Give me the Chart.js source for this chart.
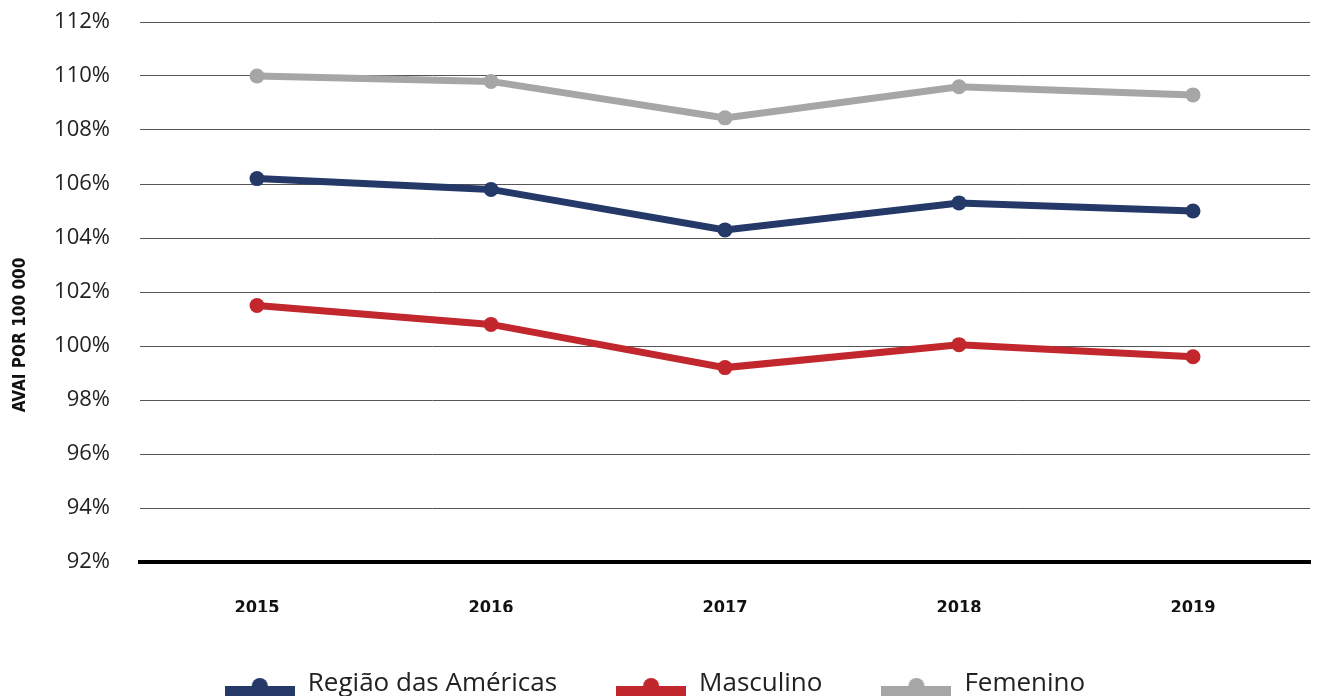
<!DOCTYPE html>
<html>
<head>
<meta charset="utf-8">
<script src="https://cdn.jsdelivr.net/npm/chart.js@4/dist/chart.umd.min.js"></script>
<style>
    html, body { margin: 0; padding: 0; background: #fff; overflow: hidden; }
    #wrap { width: 1328px; height: 707px; position: relative; }
</style>
</head>
<body>
<div id="wrap"><canvas id="line_chart"></canvas></div>
<script>
var years = ["2015", "2016", "2017", "2018", "2019"];
var regiao = [106.2, 105.8, 104.3, 105.3, 105.0];
var masculino = [101.5, 100.8, 99.2, 100.05, 99.6];
var femenino = [110.0, 109.8, 108.45, 109.6, 109.3];
var yTicks = [92, 94, 96, 98, 100, 102, 104, 106, 108, 110, 112];

var navy = '#253969';
var red = '#c1272d';
var grey = '#a6a6a6';
var narrowFont = '"DejaVu Sans Condensed", "Liberation Sans", sans-serif';

// legend marker: thick line with a dot, like the series style
function legendSymbol(color) {
    var c = document.createElement('canvas');
    c.width = 70;
    c.height = 28;
    var g = c.getContext('2d');
    g.fillStyle = color;
    g.fillRect(0, 16, 70, 11);
    g.beginPath();
    g.arc(35, 16, 8, 0, Math.PI * 2);
    g.fill();
    return c;
}
var symbols = [legendSymbol(navy), legendSymbol(red), legendSymbol(grey)];

// vertical axis caption
var yCaption = {
    id: 'yCaption',
    afterDraw: function(chart) {
        var ctx = chart.ctx;
        ctx.save();
        ctx.translate(21, 335);
        ctx.rotate(-Math.PI / 2);
        ctx.font = 'bold 17px ' + narrowFont;
        ctx.fillStyle = '#111';
        ctx.textAlign = 'center';
        ctx.textBaseline = 'middle';
        ctx.fillText('AVAI POR 100 000', 0, 0);
        ctx.restore();
    }
};

function series(label, data, color) {
    return {
        label: label,
        data: data,
        borderColor: color,
        backgroundColor: color,
        pointBackgroundColor: color,
        borderWidth: 7,
        pointRadius: 7.5,
        pointBorderWidth: 0,
        pointHoverRadius: 7.5,
        tension: 0,
        fill: false
    };
}

var lineData = {
    labels: years,
    datasets: [
        series("Região das Américas", regiao, navy),
        series("Masculino", masculino, red),
        series("Femenino", femenino, grey)
    ]
};

var lineOptions = {
    responsive: true,
    maintainAspectRatio: false,
    animation: false,
    layout: { padding: { top: 22, right: 18, left: 0, bottom: 0 } },
    plugins: {
        tooltip: { enabled: false },
        legend: {
            position: 'bottom',
            labels: {
                usePointStyle: true,
                pointStyleWidth: 70,
                padding: 59,
                color: '#222',
                font: { family: '"Open Sans"', size: 26 },
                generateLabels: function(chart) {
                    var items = Chart.defaults.plugins.legend.labels.generateLabels(chart);
                    items.forEach(function(item) {
                        item.pointStyle = symbols[item.datasetIndex];
                    });
                    return items;
                }
            }
        }
    },
    scales: {
        x: {
            offset: true,
            grid: { display: false },
            border: { color: '#000', width: 4 },
            ticks: {
                padding: 28,
                color: '#111',
                font: { family: narrowFont, size: 18, weight: 'bold' }
            },
            // keep the axis box just tall enough for the year labels
            afterFit: function(scale) { scale.height = 50; }
        },
        y: {
            min: 92,
            max: 112,
            afterBuildTicks: function(scale) {
                scale.ticks = yTicks.map(function(v) { return { value: v }; });
            },
            grid: { color: '#555', lineWidth: 1, drawTicks: false },
            border: { display: false },
            ticks: {
                padding: 30,
                color: '#222',
                font: { family: '"Open Sans"', size: 22 },
                callback: function(v) { return v + '%'; }
            },
            afterFit: function(scale) {
                scale.width = 140;
                scale.paddingTop = 10;
                scale.paddingBottom = 10;
            }
        }
    }
};

var ctx = document.getElementById("line_chart").getContext("2d");
new Chart(ctx, {type: 'line', data: lineData, options: lineOptions, plugins: [yCaption]});
</script>
</body>
</html>
